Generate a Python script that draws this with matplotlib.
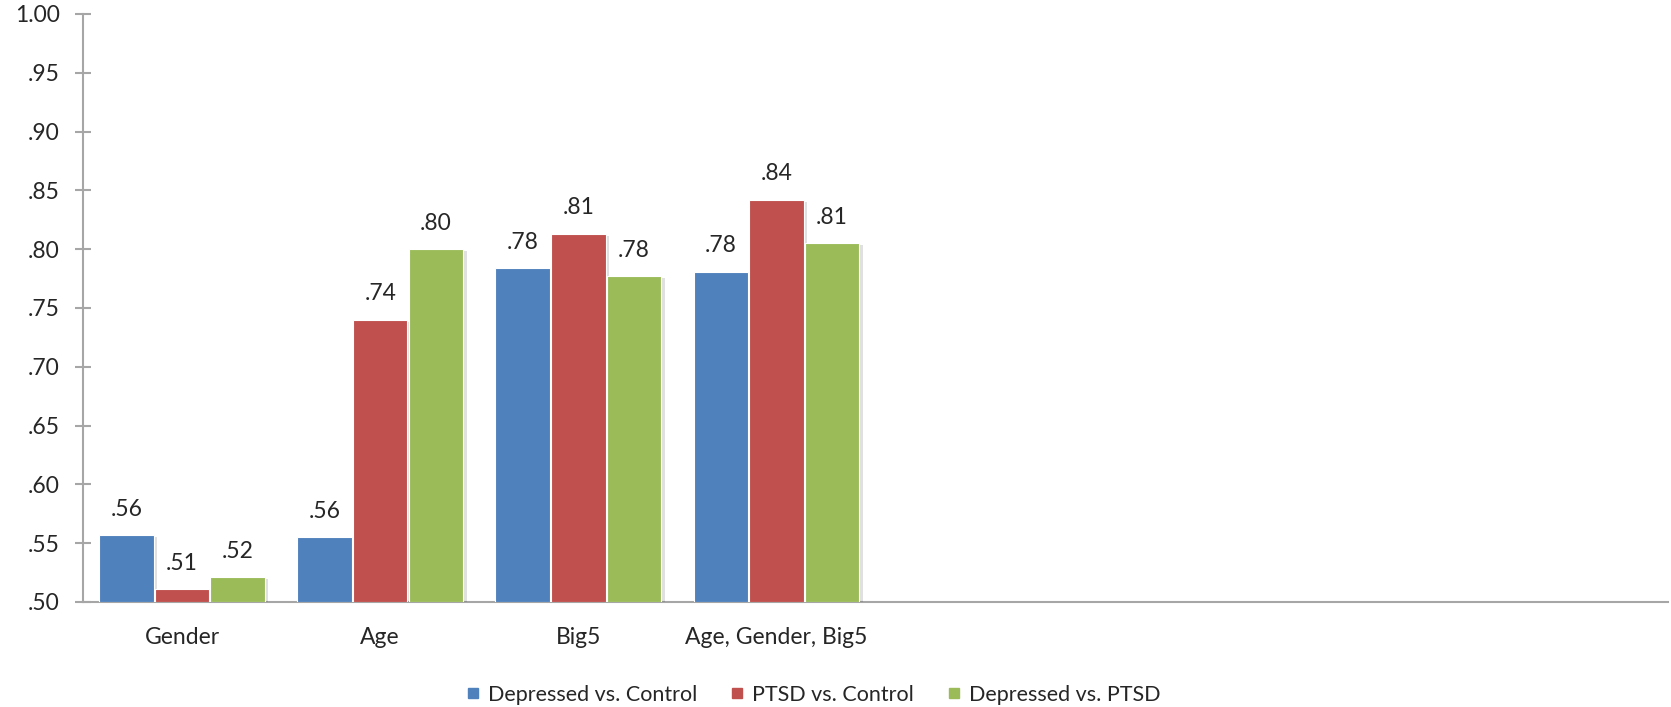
import matplotlib
matplotlib.use("Agg")
import matplotlib.pyplot as plt
import matplotlib.patheffects as pe
import numpy as np

plt.rcParams['font.family'] = ['Lato', 'DejaVu Sans']

categories = ["Gender", "Age", "Big5", "Age, Gender, Big5", "", "", "", ""]
series_names = ["Depressed vs. Control", "PTSD vs. Control", "Depressed vs. PTSD"]
dep_ctrl = [0.557, 0.555, 0.784, 0.781]
ptsd_ctrl = [0.511, 0.740, 0.813, 0.842]
dep_ptsd = [0.521, 0.800, 0.777, 0.805]
labels_dep_ctrl = [".56", ".56", ".78", ".78"]
labels_ptsd_ctrl = [".51", ".74", ".81", ".84"]
labels_dep_ptsd = [".52", ".80", ".78", ".81"]
yticks = [0.50, 0.55, 0.60, 0.65, 0.70, 0.75, 0.80, 0.85, 0.90, 0.95, 1.00]
ytick_labels = [".50", ".55", ".60", ".65", ".70", ".75", ".80", ".85", ".90", ".95", "1.00"]

colors = ["#4F81BD", "#C0504D", "#9BBB59"]
text_color = "#262626"
axis_color = "#A6A6A6"
fs = 16.5

fig = plt.figure(figsize=(16.71, 7.07), dpi=100)
ax = fig.add_axes([83/1671, 1-602/707, (1668-83)/1671, (602-14)/707])

n = len(dep_ctrl)
x = np.arange(n)
width = 0.275
spacing = 0.281
all_series = [dep_ctrl, ptsd_ctrl, dep_ptsd]
all_labels = [labels_dep_ctrl, labels_ptsd_ctrl, labels_dep_ptsd]
handles = []
for i, (vals, labs, col, name) in enumerate(zip(all_series, all_labels, colors, series_names)):
    pos = x + (i - 1) * spacing
    heights = [v - 0.5 for v in vals]
    bars = ax.bar(pos, heights, width=width, bottom=0.5, color=col, edgecolor='white',
                  linewidth=0.8, zorder=3, label=name)
    for b in bars:
        b.set_path_effects([pe.SimplePatchShadow(offset=(2.5, -1.5), shadow_rgbFace='#000000', alpha=0.12),
                            pe.Normal()])
    for p, v, l in zip(pos, vals, labs):
        ax.annotate(l, xy=(p, v), xytext=(0, 14), textcoords='offset points',
                    ha='center', va='baseline', fontsize=fs, color=text_color)
    handles.append(plt.Line2D([], [], marker='s', linestyle='none', markersize=7.2,
                              markerfacecolor=col, markeredgecolor=col))

ax.set_xlim(-0.5, len(categories) - 0.5)
ax.set_ylim(0.5, 1.0)
ax.set_xticks(np.arange(len(categories)))
ax.set_xticklabels(categories, fontsize=fs, color=text_color)
ax.set_yticks(yticks)
ax.set_yticklabels(ytick_labels, fontsize=fs, color=text_color)

for s in ['top', 'right']:
    ax.spines[s].set_visible(False)
for s in ['left', 'bottom']:
    ax.spines[s].set_color(axis_color)
    ax.spines[s].set_linewidth(1.5)
ax.tick_params(axis='y', direction='inout', length=11.5, width=1.5, color=axis_color, pad=11)
ax.tick_params(axis='x', length=0, pad=18)

fig.legend(handles, series_names, loc='center', bbox_to_anchor=(814/1671, 1-695/707),
           ncol=3, frameon=False, fontsize=15.5, handlelength=0.5, handletextpad=0.45,
           columnspacing=1.6, labelcolor=text_color)

fig.savefig("out.png", dpi=100)
